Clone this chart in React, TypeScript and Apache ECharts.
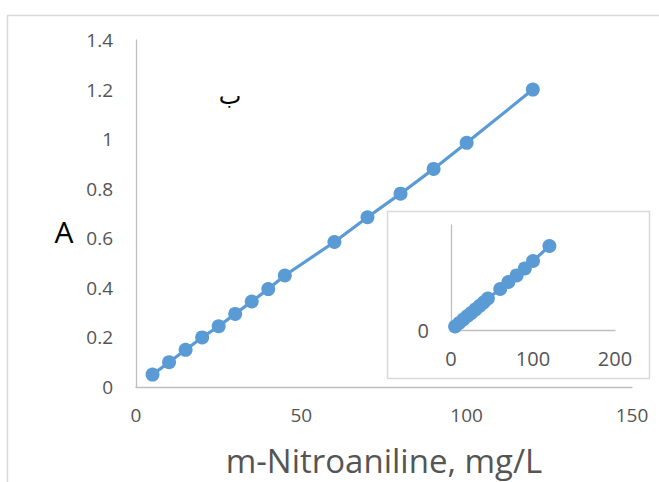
import React, { useEffect, useRef } from "react";
import * as echarts from "echarts";

const concentrations = [5, 10, 15, 20, 25, 30, 35, 40, 45, 60, 70, 80, 90, 100, 120];
const absorbances = [0.05, 0.1, 0.15, 0.2, 0.245, 0.295, 0.345, 0.395, 0.45, 0.585, 0.685, 0.78, 0.88, 0.985, 1.2];
const xTitle = "m-Nitroaniline, mg/L";
const yTitle = "A";
const panelLabel = "ب";

export default function App() {
  const ref = useRef<HTMLDivElement>(null);
  useEffect(() => {
    if (!ref.current) return;
    const chart = echarts.init(ref.current, null, { renderer: "svg" });
    const pts = concentrations.map((c, i) => [c, absorbances[i]]);
    const font = "'Open Sans', sans-serif";
    const axisLine = { show: true, lineStyle: { color: "#BFBFBF", width: 1.3 } };
    chart.setOption({
      animation: false,
      backgroundColor: "#ffffff",
      textStyle: { fontFamily: font },
      grid: [
        { left: 136, top: 40, width: 496, height: 347 },
        { left: 451, top: 225, width: 164, height: 105 },
      ],
      xAxis: [
        {
          gridIndex: 0, type: "value", min: 0, max: 150, interval: 50,
          axisLine, axisTick: { show: false }, splitLine: { show: false },
          axisLabel: { color: "#555555", fontSize: 19, margin: 18, fontFamily: font },
          name: xTitle, nameLocation: "middle", nameGap: 57,
          nameTextStyle: { color: "#555555", fontSize: 33, fontFamily: font },
        },
        {
          gridIndex: 1, type: "value", min: 0, max: 200, interval: 100,
          axisLine, axisTick: { show: false }, splitLine: { show: false },
          axisLabel: { color: "#555555", fontSize: 20, margin: 18, fontFamily: font },
        },
      ],
      yAxis: [
        {
          gridIndex: 0, type: "value", min: 0, max: 1.4, interval: 0.2,
          axisLine, axisTick: { show: false }, splitLine: { show: false },
          axisLabel: { color: "#555555", fontSize: 19, margin: 23, fontFamily: font },
        },
        {
          gridIndex: 1, type: "value", min: 0, max: 1.5, interval: 1.5,
          axisLine, axisTick: { show: false }, splitLine: { show: false },
          axisLabel: {
            color: "#555555", fontSize: 20, margin: 22, fontFamily: font,
            formatter: (v: number) => (v === 0 ? "0" : ""),
          },
        },
      ],
      graphic: [
        {
          type: "rect", z: -10, silent: true,
          shape: { x: 7.5, y: 15.5, width: 720, height: 520 },
          style: { fill: "none", stroke: "#D9D9D9", lineWidth: 1.5 },
        },
        {
          type: "rect", z: -10, silent: true,
          shape: { x: 387.5, y: 211.5, width: 262, height: 167 },
          style: { fill: "none", stroke: "#D9D9D9", lineWidth: 1.5 },
        },
        {
          type: "text", x: 64, y: 231,
          style: { text: yTitle, fill: "#000000", fontSize: 30, fontFamily: font, align: "center", verticalAlign: "middle" },
        },
        {
          type: "text", x: 230, y: 96,
          style: { text: panelLabel, fill: "#000000", fontSize: 24, fontFamily: "'DejaVu Sans', sans-serif", align: "center", verticalAlign: "middle" },
        },
      ],
      series: [
        {
          type: "line", xAxisIndex: 0, yAxisIndex: 0, data: pts,
          symbol: "circle", symbolSize: 14,
          lineStyle: { color: "#5B9BD5", width: 3.2 },
          itemStyle: { color: "#5B9BD5" },
        },
        {
          type: "line", xAxisIndex: 1, yAxisIndex: 1, data: pts,
          symbol: "circle", symbolSize: 14,
          lineStyle: { color: "#5B9BD5", width: 3.2 },
          itemStyle: { color: "#5B9BD5" },
        },
      ],
    });
    return () => chart.dispose();
  }, []);
  return (
    <div
      ref={ref}
      style={{ position: "fixed", left: 0, top: 0, width: 659, height: 482 }}
    />
  );
}
